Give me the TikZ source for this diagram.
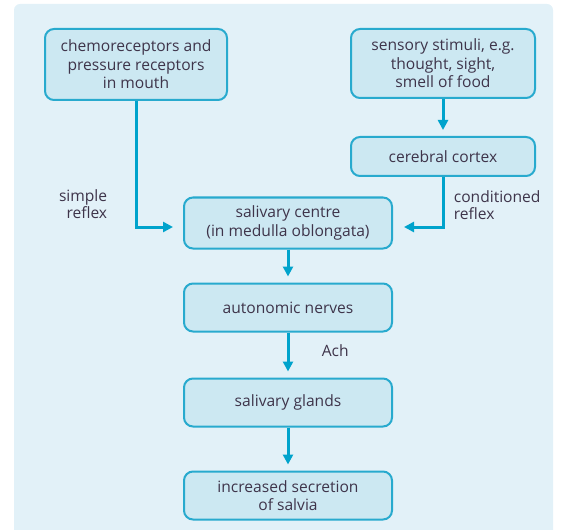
\documentclass[tikz,border=0pt]{standalone}
\usepackage{fontspec}
\setmainfont{Open Sans}
\usetikzlibrary{arrows.meta,positioning,calc}
\definecolor{panelbg}{RGB}{226,241,248}
\definecolor{boxfill}{RGB}{204,232,242}
\definecolor{boxline}{RGB}{40,170,206}
\definecolor{arrcyan}{RGB}{0,163,204}
\definecolor{txtgray}{RGB}{62,52,74}
\tikzset{
  stage/.style={rectangle, rounded corners=9pt,
    draw=boxline, fill=boxfill, line width=2pt,
    minimum width=208pt, minimum height=48pt, align=center,
    font=\fontsize{15.6}{18.5}\selectfont\color{txtgray}},
  arr/.style={-{Triangle[length=10pt,width=10pt]}, line width=3pt,
    color=arrcyan, shorten >=6pt},
  lbl/.style={font=\fontsize{15.6}{17}\selectfont, color=txtgray}
}

\begin{document}
\begin{tikzpicture}[x=1pt, y=1pt]

\useasboundingbox (0,0) rectangle (561,-529);
\fill[panelbg, rounded corners=6pt] (14,-4) rectangle (553,-545);

%% ── TOP ROW: stimuli ───────────────────────────────────────────────
\node[stage, minimum width=182pt, minimum height=71pt] at (136,-64.5) (rec)
  {chemoreceptors and\\pressure receptors\\in mouth};
\node[stage, minimum width=184pt, minimum height=69pt] at (443,-63.5) (sen)
  {sensory stimuli, e.g.\\thought, sight,\\smell of food};
\node[stage, minimum width=184pt, minimum height=39pt, below=37pt of sen] (cor)
  {cerebral cortex};

%% ── CENTRE COLUMN ──────────────────────────────────────────────────
\node[stage, minimum height=51pt] at (288,-223) (sal)
  {salivary centre\\(in medulla oblongata)};
\node[stage, below=33pt of sal] (aut) {autonomic nerves};
\node[stage, below=45pt of aut] (gla) {salivary glands};
\node[stage, below=43pt of gla] (sec) {increased secretion\\of salvia};

%% ── ARROWS ─────────────────────────────────────────────────────────
\draw[arr] (sen)--(cor);

%% reflex paths into the centre
\draw[arr, shorten >=10pt] (rec.south) |-
  node[lbl, pos=0.41, left=24pt, align=right]{simple\\reflex}
  ([yshift=-4pt]sal.west);
\draw[arr, shorten >=11pt] (cor.south) |-
  node[lbl, pos=0.28, right=6pt, align=left]{conditioned\\reflex}
  ([yshift=-4pt]sal.east);

\draw[arr] (sal)--(aut);
\draw[arr] (aut)--
  node[lbl, pos=0.4, right=29pt]{Ach} (gla);
\draw[arr] (gla)--(sec);

\end{tikzpicture}
\end{document}
